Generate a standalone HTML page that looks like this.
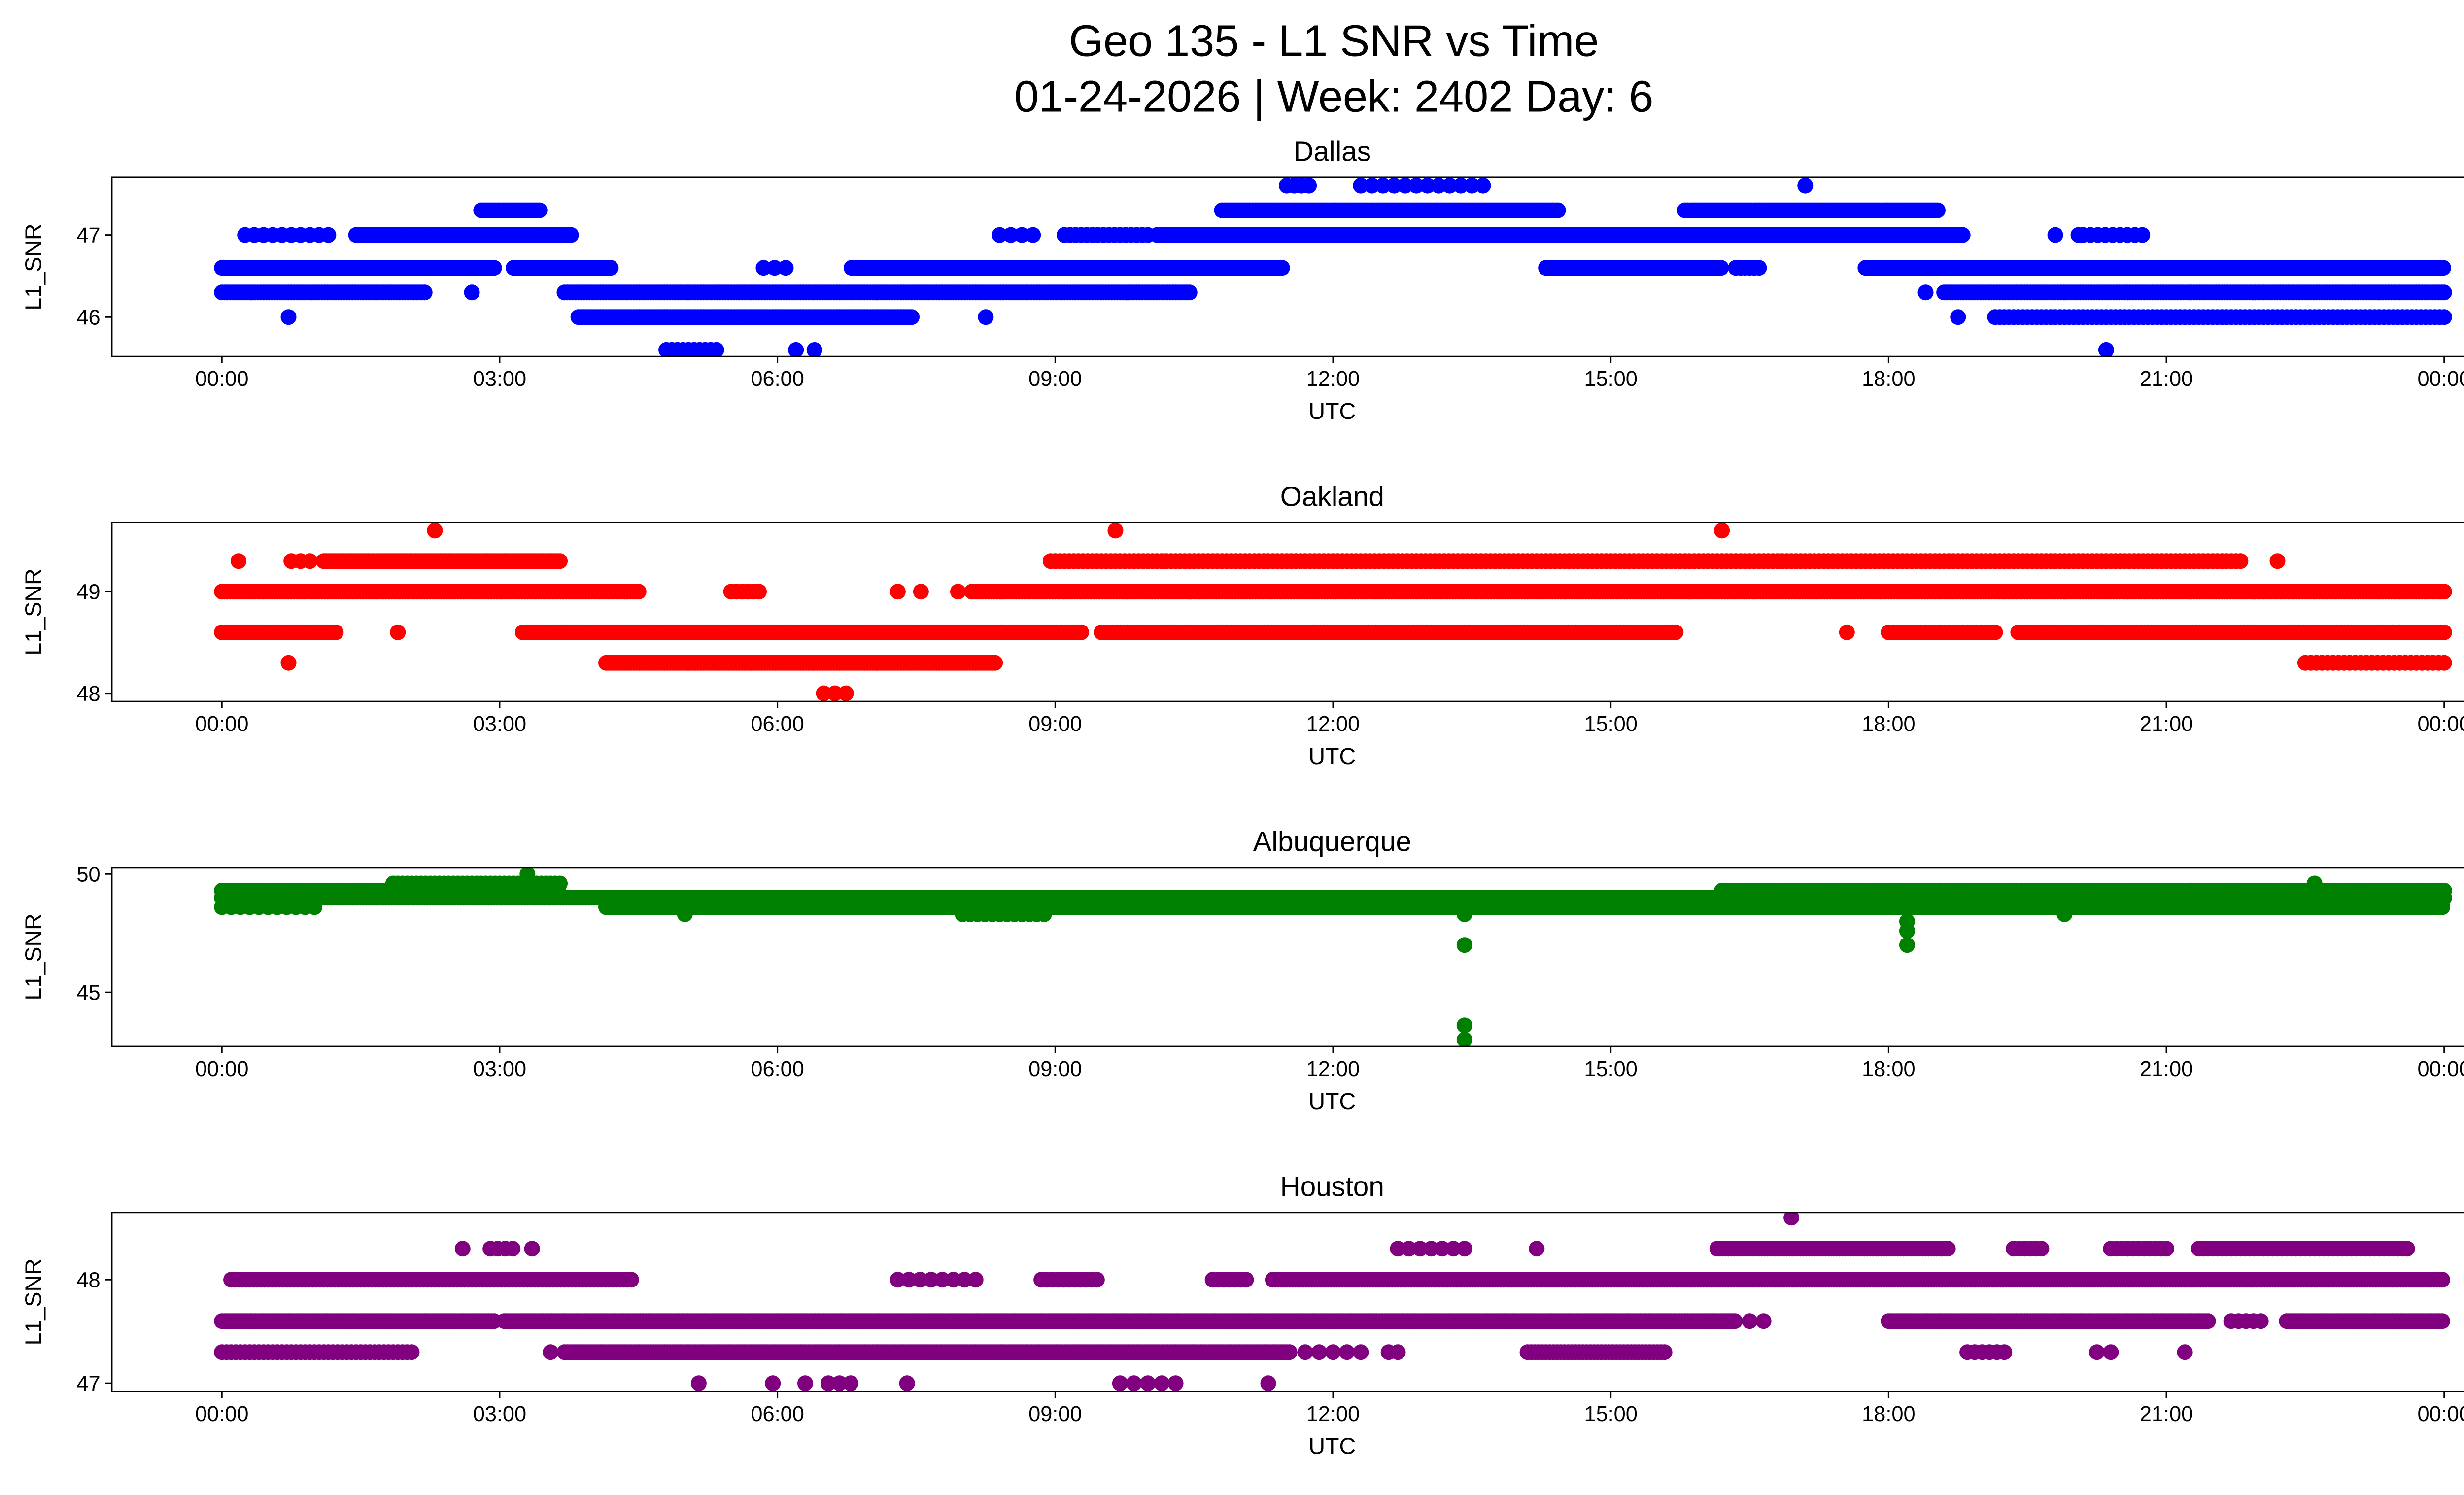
<!DOCTYPE html>
<html><head><meta charset="utf-8"><style>
html,body{margin:0;padding:0;background:#fff;}
svg{display:block;font-family:"Liberation Sans","DejaVu Sans",sans-serif;}
</style></head><body>
<svg id="fig" width="5225" height="3033" viewBox="0 0 1567.5 910" xmlns="http://www.w3.org/2000/svg">
<text x="812" y="34" font-size="27" text-anchor="middle">Geo 135 - L1 SNR vs Time</text>
<text x="812" y="68" font-size="27" text-anchor="middle">01-24-2026 | Week: 2402 Day: 6</text>
</svg>
<script>
// runs: [startHour, endHour, snrValue, sampleStepHours]
const dallasRuns = [
 [0,2.95,46.6,0.03],[3.15,4.2,46.6,0.03],[5.85,6.2,46.6,0.12],[6.8,11.45,46.6,0.03],[14.3,16.2,46.6,0.03],[16.35,16.6,46.6,0.05],[17.75,24,46.6,0.03],
 [0,2.2,46.3,0.03],[2.7,2.7,46.3,1],[3.7,10.45,46.3,0.03],[18.4,18.4,46.3,1],[18.6,24,46.3,0.03],
 [0.25,1.15,47.0,0.1],[1.45,3.8,47.0,0.04],[8.4,8.8,47.0,0.12],[9.1,10,47.0,0.06],[10.1,18.8,47.0,0.03],[19.8,19.8,47.0,1],[20.05,20.05,47.0,1],[20.1,20.75,47.0,0.08],
 [2.8,3.45,47.3,0.03],[10.8,14.45,47.3,0.03],[15.8,18.55,47.3,0.03],
 [11.5,11.8,47.6,0.08],[12.3,13.65,47.6,0.12],[17.1,17.1,47.6,1],
 [0.72,0.72,46.0,1],[3.85,7.45,46.0,0.03],[8.25,8.25,46.0,1],[18.75,18.75,46.0,1],[19.15,24,46.0,0.05],
 [4.8,5.35,45.6,0.06],[6.2,6.2,45.6,1],[6.4,6.4,45.6,1],[20.35,20.35,45.6,1]
];
const oaklandRuns = [
 [0,4.5,49.0,0.03],[5.5,5.85,49.0,0.06],[7.3,7.3,49.0,1],[7.55,7.55,49.0,1],[7.95,7.95,49.0,1],[8.1,24,49.0,0.03],
 [0,1.25,48.6,0.03],[1.9,1.9,48.6,1],[3.25,9.3,48.6,0.03],[9.5,15.7,48.6,0.04],[17.55,17.55,48.6,1],[18,19.15,48.6,0.05],[19.4,24,48.6,0.04],
 [0.18,0.18,49.3,1],[0.75,1.0,49.3,0.1],[1.1,3.65,49.3,0.03],[8.95,21.8,49.3,0.05],[22.2,22.2,49.3,1],
 [0.72,0.72,48.3,1],[4.15,8.35,48.3,0.03],[22.5,24,48.3,0.06],
 [6.5,6.75,48.0,0.12],
 [2.3,2.3,49.6,1],[9.65,9.65,49.6,1],[16.2,16.2,49.6,1]
];
const albuquerqueRuns = [
 [0,24,49.0,0.03],[0,3.65,49.3,0.03],[1.85,3.65,49.6,0.05],[3.3,3.3,50.0,1],
 [0,1.0,48.6,0.1],[4.15,24,48.6,0.03],[16.2,24,49.3,0.03],[22.6,22.6,49.6,1],
 [5.0,5.0,48.3,1],[8.0,8.9,48.3,0.08],[19.9,19.9,48.3,1],
 [13.42,13.42,48.3,1],[13.42,13.42,47.0,1],[13.42,13.42,43.6,1],[13.42,13.42,43.0,1],
 [18.2,18.2,48.0,1],[18.2,18.2,47.6,1],[18.2,18.2,47.0,1]
];
const houstonRuns = [
 [0,2.95,47.6,0.03],[3.05,16.35,47.6,0.03],[16.5,16.5,47.6,1],[16.65,16.65,47.6,1],[18,21.45,47.6,0.03],[21.7,22.05,47.6,0.08],[22.3,24,47.6,0.03],
 [0,2.05,47.3,0.05],[3.55,3.55,47.3,1],[3.7,11.55,47.3,0.03],[11.7,12.4,47.3,0.15],[12.6,12.7,47.3,0.1],[14.1,15.6,47.3,0.04],[18.85,19.25,47.3,0.08],[20.25,20.4,47.3,0.15],[21.2,21.2,47.3,1],
 [0.1,4.45,48.0,0.04],[7.3,8.25,48.0,0.12],[8.85,9.45,48.0,0.06],[10.7,11.1,48.0,0.06],[11.35,24,48.0,0.03],
 [2.6,2.6,48.3,1],[2.9,3.15,48.3,0.08],[3.35,3.35,48.3,1],[12.7,13.45,48.3,0.12],[14.2,14.2,48.3,1],[16.15,18.65,48.3,0.03],[19.35,19.7,48.3,0.06],[20.4,21.05,48.3,0.06],[21.35,23.6,48.3,0.05],
 [5.15,5.15,47.0,1],[5.95,5.95,47.0,1],[6.3,6.3,47.0,1],[6.55,6.8,47.0,0.12],[7.4,7.4,47.0,1],[9.7,10.3,47.0,0.15],[11.3,11.3,47.0,1],
 [16.95,16.95,48.6,1]
];
const xTickLabels = ["00:00","03:00","06:00","09:00","12:00","15:00","18:00","21:00","00:00"];
const xTickHours = [0,3,6,9,12,15,18,21,24];

const panels = [
 {name:"Dallas", runs:dallasRuns, color:"#0000ff", top:108, ymin:45.52, ymax:47.7, ticks:[46,47]},
 {name:"Oakland", runs:oaklandRuns, color:"#ff0000", top:318, ymin:47.92, ymax:49.68, ticks:[48,49]},
 {name:"Albuquerque", runs:albuquerqueRuns, color:"#008000", top:528, ymin:42.71, ymax:50.28, ticks:[45,50]},
 {name:"Houston", runs:houstonRuns, color:"#800080", top:738, ymin:46.92, ymax:48.65, ticks:[47,48]}
];
const NS="http://www.w3.org/2000/svg";
const fig=document.getElementById('fig');
const L=68,R=1555,H=109;
const xs=h=>135+(h/24)*(1488-135);
function mk(tag,attrs,parent){const e=document.createElementNS(NS,tag);for(const k in attrs)e.setAttribute(k,attrs[k]);parent.appendChild(e);return e;}
panels.forEach(p=>{
 const slug=p.name.toLowerCase();
 const g=mk('g',{},fig);
 
 
 const ys=v=>p.top+H-(v-p.ymin)/(p.ymax-p.ymin)*H;
 const clip=mk('clipPath',{id:'c-'+slug},g);
 mk('rect',{x:L,y:p.top,width:R-L,height:H},clip);
 const pts=mk('g',{'clip-path':'url(#c-'+slug+')',fill:p.color},g);
 
 
 p.runs.forEach(r=>{
  const [s,e,v,st]=r;
  for(let t=s;t<=e+1e-9;t+=st){
   const c=mk('ellipse',{cx:xs(t).toFixed(2),cy:ys(v).toFixed(2),rx:4.8,ry:4.8},pts);
  }
 });
 const frame=mk('rect',{x:L,y:p.top,width:R-L,height:H,fill:'none',stroke:'#000','stroke-width':0.9},g);
 
 
 xTickHours.forEach((h,i)=>{
  mk('line',{x1:xs(h),x2:xs(h),y1:p.top+H,y2:p.top+H+4,stroke:'#000','stroke-width':0.9},g);
  const t=mk('text',{x:xs(h),y:p.top+H+18,'font-size':13,'text-anchor':'middle'},g);
  
  
  t.textContent=xTickLabels[i];
 });
 p.ticks.forEach(v=>{
  mk('line',{x1:L-4,x2:L,y1:ys(v),y2:ys(v),stroke:'#000','stroke-width':0.9},g);
  const t=mk('text',{x:L-7,y:ys(v)+4.6,'font-size':13,'text-anchor':'end'},g);
  
  
  t.textContent=String(v);
 });
 const xl=mk('text',{x:811,y:p.top+H+38,'font-size':14,'text-anchor':'middle'},g);
 
 
 xl.textContent='UTC';
 const yl=mk('text',{x:0,y:0,'font-size':14,'text-anchor':'middle',transform:`translate(25,${p.top+H/2}) rotate(-90)`},g);
 
 
 yl.textContent='L1_SNR';
 const tt=mk('text',{x:811,y:p.top-10,'font-size':17,'text-anchor':'middle'},g);
 
 
 tt.textContent=p.name;
});
</script>
</body></html>
